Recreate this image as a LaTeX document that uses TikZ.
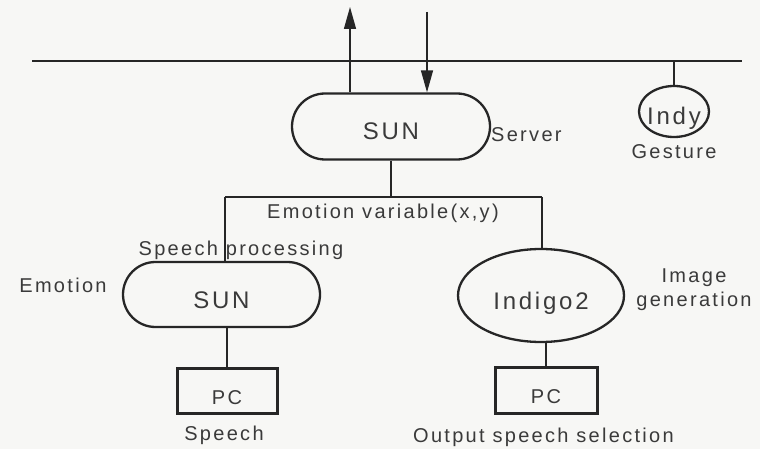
\documentclass[tikz,border=0pt]{standalone}
\usepackage{fontspec}
\setmainfont{Liberation Sans}[LetterSpace=11.5]
\usetikzlibrary{arrows.meta,shapes.geometric,shapes.misc}
\definecolor{ink}{HTML}{262626}
\definecolor{txt}{HTML}{3A3A3A}
\definecolor{paper}{HTML}{F7F7F5}
\begin{document}
\begin{tikzpicture}[x=1pt,y=-1pt,
  lbl/.style={text=txt,font=\fontsize{20}{24}\selectfont,inner sep=0pt},
  big/.style={text=txt,font=\fontsize{24}{28}\selectfont,inner sep=0pt},
  % the machine names sit a little below the middle of their outlines
  lowtext/.style={text height=27pt,text depth=0pt},
  pill/.style={big,lowtext,draw=ink,line width=2.3pt,rounded rectangle,minimum width=198pt,minimum height=66pt},
  oval/.style={big,lowtext,draw=ink,line width=2.3pt,ellipse},
  pcbox/.style={lbl,lowtext,draw=ink,line width=3pt,rectangle,minimum width=100pt,minimum height=45pt},
  conn/.style={draw=ink,line width=1.4pt},
  bus/.style={draw=ink,line width=2.6pt},
  tip/.style={-{Triangle[length=22pt,width=12pt]}}
]
\useasboundingbox (0,0) rectangle (760,449);
\fill[paper] (0,0) rectangle (760,449);

% network bus
\coordinate (busL) at (32,61);
\coordinate (busR) at (742,61);
\draw[bus] (busL) -- (busR);

% server and gesture machine
\node[pill] (sun) at (391,126.5) {SUN};
\node[lbl,anchor=west] (server) at (491,135) {Server};
\node[oval,minimum width=70pt,minimum height=51pt] (indy) at (674,111.5) {\makebox[0pt]{Indy}};
\node[lbl] (gesture) at (674,152) {Gesture};

% traffic to and from the bus
\coordinate (upend) at (350,7);
\coordinate (downstart) at (427,12);
\draw[conn,tip] (sun.north -| upend) -- (upend);
\draw[conn,tip] (downstart) -- (downstart |- sun.north);
\draw[conn] (indy.north |- busL) -- (indy.north);

% lower machines
\node[pill,minimum width=197pt,minimum height=65pt] (sun2) at (221.5,294.5) {SUN};
\node[oval,minimum width=166pt,minimum height=93pt] (indigo) at (541,295.5) {\makebox[0pt]{Indigo2}};
\node[pcbox] (pc1) at (227,390.5) {PC};
\node[pcbox,minimum width=102pt,minimum height=46pt] (pc2) at (546,390) {PC};

% branch carrying the emotion variable
\coordinate (branch) at (391,197);
\coordinate (bl) at (225,197);
\coordinate (br) at (542,197);
\draw[conn] (sun.south) -- (branch);
\draw[conn] (bl) -- (br);
\draw[conn] (bl) -- (bl |- sun2.north);
\draw[conn] (br) -- (br |- indigo.north);
\draw[conn] (pc1.north |- sun2.south) -- (pc1.north);
\draw[conn] (pc2.north |- indigo.south) -- (pc2.north);

% labels
\node[lbl,anchor=west] (emvar) at (267,213) {Emotion variable(x,y)};
\node[lbl] (speechproc) at (241,250) {Speech processing};
\node[lbl] (emotion) at (63,285) {Emotion};
\node[lbl,align=center] (imggen) at (694,290) {Image\\generation};
\node[lbl] (speech) at (224,435) {Speech};
\node[lbl,anchor=west] (outsel) at (413,437) {Output speech selection};
\end{tikzpicture}
\end{document}
